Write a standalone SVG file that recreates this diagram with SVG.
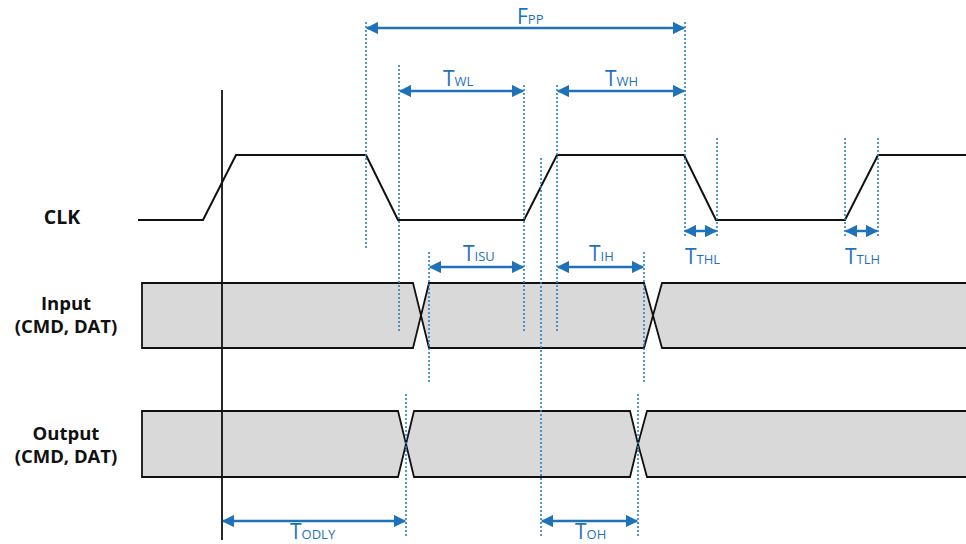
<svg xmlns="http://www.w3.org/2000/svg" width="966" height="544" viewBox="0 0 966 544">
<style>
.lbl{font-family:"Open Sans","Noto Sans","Liberation Sans",sans-serif;font-weight:bold;font-size:18.5px;fill:#111;text-anchor:middle}
.wave{fill:none;stroke:#111;stroke-width:2;stroke-linejoin:miter}
.bus{fill:#d9d9d9;stroke:#111;stroke-width:1.8;stroke-linejoin:miter}
.dot{stroke:#2a80c0;stroke-width:1.6;stroke-dasharray:2 2;fill:none}
.dim{stroke:#1f72b8;stroke-width:2.5;fill:none;marker-start:url(#ah);marker-end:url(#ah)}
.dt{font-family:"Open Sans","Noto Sans","Liberation Sans",sans-serif;font-size:21px;fill:#1f72b8}
.sub{font-size:13px}
</style>
<defs>
<marker id="ah" viewBox="0 0 10 10" refX="9" refY="5" markerWidth="5" markerHeight="5" orient="auto-start-reverse" markerUnits="strokeWidth">
<path d="M0,0 L10,5 L0,10 Z" fill="#1f72b8"/>
</marker>
</defs>
<rect width="966" height="544" fill="#fff"/>

<g id="clk-label"><text class="lbl" x="62" y="224" style="font-size:19.5px">CLK</text></g>
<g id="input-label"><text class="lbl" x="66" y="310">Input</text><text class="lbl" x="66" y="333">(CMD, DAT)</text></g>
<g id="output-label"><text class="lbl" x="66" y="440">Output</text><text class="lbl" x="66" y="463">(CMD, DAT)</text></g>

<g id="clk-wave"><polyline class="wave" points="138,220 203,220 236,155 366,155 398,220 524,220 557,155 684,155 716,220 845,220 878,155 970,155"/></g>

<g id="input-bus">
<polygon class="bus" points="142,283 413,283 421,315.5 413,348 142,348"/>
<polygon class="bus" points="429,283 644,283 653,315.5 644,348 429,348 421,315.5"/>
<polygon class="bus" points="662,283 972,283 972,348 662,348 653,315.5"/>
</g>
<g id="output-bus">
<polygon class="bus" points="142,411 398,411 406,444 398,477 142,477"/>
<polygon class="bus" points="414,411 630,411 638,444 630,477 414,477 406,444"/>
<polygon class="bus" points="647,411 972,411 972,477 647,477 638,444"/>
</g>

<g id="ref-line"><line x1="222" y1="90" x2="222" y2="540" stroke="#111" stroke-width="1.8"/></g>

<g id="guides">
<line class="dot" x1="366" y1="22" x2="366" y2="248"/>
<line class="dot" x1="399" y1="65" x2="399" y2="333"/>
<line class="dot" x1="524" y1="85" x2="524" y2="333"/>
<line class="dot" x1="541" y1="158" x2="541" y2="536"/>
<line class="dot" x1="557" y1="85" x2="557" y2="333"/>
<line class="dot" x1="429" y1="252" x2="429" y2="382"/>
<line class="dot" x1="644" y1="252" x2="644" y2="382"/>
<line class="dot" x1="685" y1="22" x2="685" y2="237"/>
<line class="dot" x1="717" y1="138" x2="717" y2="237"/>
<line class="dot" x1="845" y1="138" x2="845" y2="237"/>
<line class="dot" x1="878" y1="138" x2="878" y2="237"/>
<line class="dot" x1="406" y1="394" x2="406" y2="537"/>
<line class="dot" x1="638" y1="394" x2="638" y2="537"/>
</g>

<g id="connectors">
<line class="dim" x1="367" y1="28" x2="684" y2="28"/>
<line class="dim" x1="400" y1="91" x2="523" y2="91"/>
<line class="dim" x1="558" y1="91" x2="684" y2="91"/>
<line class="dim" x1="430" y1="267" x2="523" y2="267"/>
<line class="dim" x1="558" y1="267" x2="643" y2="267"/>
<line class="dim" x1="685" y1="231" x2="716" y2="231"/>
<line class="dim" x1="846" y1="231" x2="877" y2="231"/>
<line class="dim" x1="223" y1="521" x2="405" y2="521"/>
<line class="dim" x1="542" y1="521" x2="637" y2="521"/>
</g>

<g id="dim-labels">
<text class="dt" x="517" y="24">F<tspan class="sub">PP</tspan></text>
<text class="dt" x="443" y="86">T<tspan class="sub">WL</tspan></text>
<text class="dt" x="605" y="86">T<tspan class="sub">WH</tspan></text>
<text class="dt" x="463" y="261">T<tspan class="sub">ISU</tspan></text>
<text class="dt" x="589" y="261">T<tspan class="sub">IH</tspan></text>
<text class="dt" x="685" y="264">T<tspan class="sub">THL</tspan></text>
<text class="dt" x="845" y="264">T<tspan class="sub">TLH</tspan></text>
<text class="dt" x="290" y="539">T<tspan class="sub">ODLY</tspan></text>
<text class="dt" x="575" y="539">T<tspan class="sub">OH</tspan></text>
</g>
</svg>
